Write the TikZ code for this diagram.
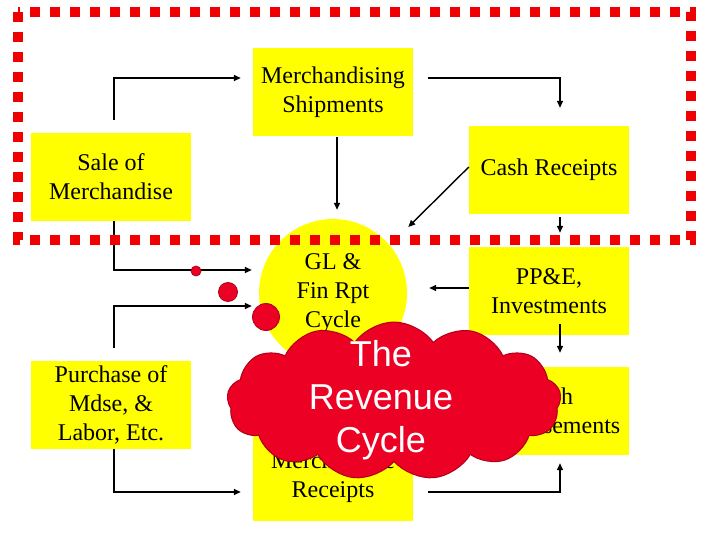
\documentclass[tikz,border=0pt]{standalone}
\usepackage{fontspec}
\setmainfont{Liberation Serif}
\newfontfamily\cloudfont{Liberation Sans}
\usetikzlibrary{positioning,arrows.meta,shapes.symbols}
\definecolor{boxyellow}{RGB}{255,255,0}
\definecolor{cloudred}{RGB}{236,0,36}
\definecolor{clouddark}{RGB}{175,0,25}
\definecolor{dashred}{RGB}{240,0,0}

\begin{document}
\begin{tikzpicture}[x=1pt, y=-1pt, font=\fontsize{24}{29}\selectfont,
  box/.style={fill=boxyellow, minimum width=160pt, minimum height=88pt, align=center, inner sep=0pt},
  arr/.style={-{Triangle[length=7pt,width=6pt]}, line width=1.4pt},
  dot/.style={circle, fill=cloudred, draw=clouddark, line width=0.8pt, inner sep=0pt}]

  \useasboundingbox (0,0) rectangle (720,540);

  % Yellow boxes
  \foreach \name/\x/\y/\text in {
    ms/333/92/{Merchandising\\Shipments},
    sale/111/177/{Sale of\\Merchandise},
    cr/549/170/{Cash Receipts},
    ppe/549/291/{PP\&E,\\Investments},
    cd/549/411/{Cash\\Disbursements},
    pur/111/405/{Purchase of\\Mdse, \&\\Labor, Etc.},
    mr/333/477/{Merchandise\\Receipts}}
    \node[box] (\name) at (\x,\y) {\text};

  % GL circle
  \node[circle, fill=boxyellow, minimum size=148pt, inner sep=0pt, align=center] (gl) at (333,293) {GL \&\\Fin Rpt\\Cycle};

  % Connectors
  \draw[arr, shorten <=13pt, shorten >=12pt] ([xshift=3pt]sale.north) |- ([yshift=14pt]ms.west);
  \draw[arr, shorten <=15pt, shorten >=18pt] ([yshift=14pt]ms.east) -| ([xshift=11pt]cr.north);
  \draw[arr, shorten <=1pt, shorten >=9pt] ([xshift=4pt]ms.south) -- ([xshift=4pt]ms.south |- gl.north);
  \draw[arr, shorten >=26pt] ([yshift=3pt]cr.west) -- (gl.40);
  \draw[arr, shorten <=3pt, shorten >=14pt] ([xshift=11pt]cr.south) -- ([xshift=11pt]ppe.north);
  \draw[arr, shorten >=7pt] ([xshift=3pt]sale.south) |- ([yshift=23pt]gl.west);
  \draw[arr, shorten <=13pt, shorten >=7pt] ([xshift=3pt]pur.north) |- ([yshift=-13pt]gl.west);
  \draw[arr, shorten >=12pt] ([xshift=3pt]pur.south) |- ([yshift=-15pt]mr.west);
  \draw[arr, shorten <=15pt, shorten >=8pt] ([yshift=-15pt]mr.east) -| ([xshift=11pt]cd.south);
  \draw[arr, shorten >=22pt] ([yshift=3pt]ppe.west) -- ([yshift=3pt]ppe.west -| gl.east);
  \draw[arr, shorten <=-11pt, shorten >=14pt] ([xshift=11pt]ppe.south) -- ([xshift=11pt]cd.north);

  % Red dashed frame
  \draw[dashred, line width=10pt, dash pattern=on 10pt off 10pt] (18,12) rectangle (691,240);

  % Thought bubbles and cloud
  \node[dot, minimum size=10pt] (d1) at (196,271) {};
  \node[dot, minimum size=19pt] (d2) at (228,292) {};
  \node[dot, minimum size=27pt] (d3) at (266,317) {};
  \node[cloud, cloud puffs=13, cloud puff arc=110, cloud ignores aspect, fill=cloudred, draw=clouddark, line width=1pt,
        minimum width=334pt, minimum height=158pt, inner sep=0pt] (rev) at (394,401) {};
  \node[font=\cloudfont\fontsize{36}{43}\selectfont, text=white, align=center] (revtext) at (381,400) {The\\Revenue\\Cycle};

\end{tikzpicture}
\end{document}
